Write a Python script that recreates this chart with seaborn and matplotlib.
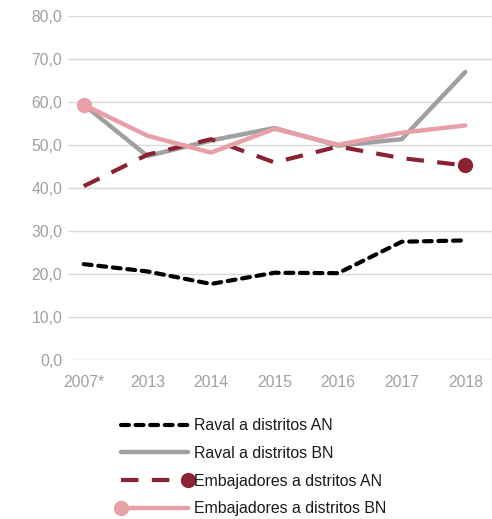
import pandas as pd
import numpy as np
import matplotlib.pyplot as plt
import seaborn as sns
from matplotlib.legend_handler import HandlerLine2D

# Data
years = ['2007*', '2013', '2014', '2015', '2016', '2017', '2018']
raval_an = [22.3, 20.6, 17.7, 20.3, 20.2, 27.5, 27.8]
raval_bn = [59.3, 47.4, 51.0, 53.9, 49.8, 51.3, 66.9]
emb_an = [40.4, 47.7, 51.3, 45.9, 49.6, 46.9, 45.2]
emb_bn = [59.3, 52.1, 48.2, 53.7, 50.0, 52.8, 54.5]


# legend handler that keeps the marker on only one end of the line
class EndMarker(HandlerLine2D):
    def __init__(self, idx, **kw):
        super().__init__(**kw)
        self.idx = idx

    def create_artists(self, *args, **kw):
        arts = super().create_artists(*args, **kw)
        for a in arts:
            a.set_markevery([self.idx])
        return arts


sns.set_style('white')
plt.rcParams['font.family'] = ['Liberation Sans', 'DejaVu Sans']

fig = plt.figure(figsize=(4.92, 5.19), dpi=100)
ax = fig.add_axes([0.138, 0.306, 0.862, 0.664])

x = np.arange(len(years))
df = pd.DataFrame({'x': x, 'raval_an': raval_an, 'raval_bn': raval_bn,
                   'emb_an': emb_an, 'emb_bn': emb_bn})

sns.lineplot(data=df, x='x', y='raval_an', ax=ax, color='black', lw=3,
             label='Raval a distritos AN')
l1 = ax.lines[-1]
l1.set_dashes((1.9, 1.6))
l1.set_dash_capstyle('round')

sns.lineplot(data=df, x='x', y='raval_bn', ax=ax, color='#a0a0a0', lw=3.2,
             label='Raval a distritos BN')
l2 = ax.lines[-1]

sns.lineplot(data=df, x='x', y='emb_an', ax=ax, color='#8b2232', lw=3,
             label='Embajadores a dstritos AN', marker='o', markersize=11,
             markevery=[-1], markeredgewidth=0)
l3 = ax.lines[-1]
l3.set_dashes((4.2, 3.2))

sns.lineplot(data=df, x='x', y='emb_bn', ax=ax, color='#e8a0a8', lw=3.2,
             label='Embajadores a distritos BN', marker='o', markersize=11,
             markevery=[0], markeredgewidth=0)
l4 = ax.lines[-1]

ax.set_xlim(-0.25, 6.42)
ax.set_ylim(0, 80)
ax.set_yticks(np.arange(0, 81, 10))
ax.set_yticklabels([f'{v:.1f}'.replace('.', ',') for v in np.arange(0, 81, 10)])
ax.set_xticks(x)
ax.set_xticklabels(years)
ax.set_xlabel('')
ax.set_ylabel('')
ax.grid(axis='y', color='#d9d9d9', lw=1)
ax.set_axisbelow(True)
for s in ax.spines.values():
    s.set_visible(False)
ax.tick_params(colors='#a6a6a6', labelsize=11.3, length=0)
ax.tick_params(axis='x', pad=11)
ax.tick_params(axis='y', pad=4)
for t in ax.get_xticklabels() + ax.get_yticklabels():
    t.set_color('#a0a0a0')

ax.legend(handles=[l1, l2, l3, l4],
          labels=['Raval a distritos AN', 'Raval a distritos BN',
                  'Embajadores a dstritos AN', 'Embajadores a distritos BN'],
          handler_map={l3: EndMarker(-1), l4: EndMarker(0)},
          loc='upper left', bbox_to_anchor=(0.1, -0.15), frameon=False,
          numpoints=2, handlelength=4.8, handletextpad=0.1, fontsize=11.4,
          labelspacing=0.8, borderaxespad=0, labelcolor='#1a1a1a')

fig.savefig('out.png', dpi=100)
